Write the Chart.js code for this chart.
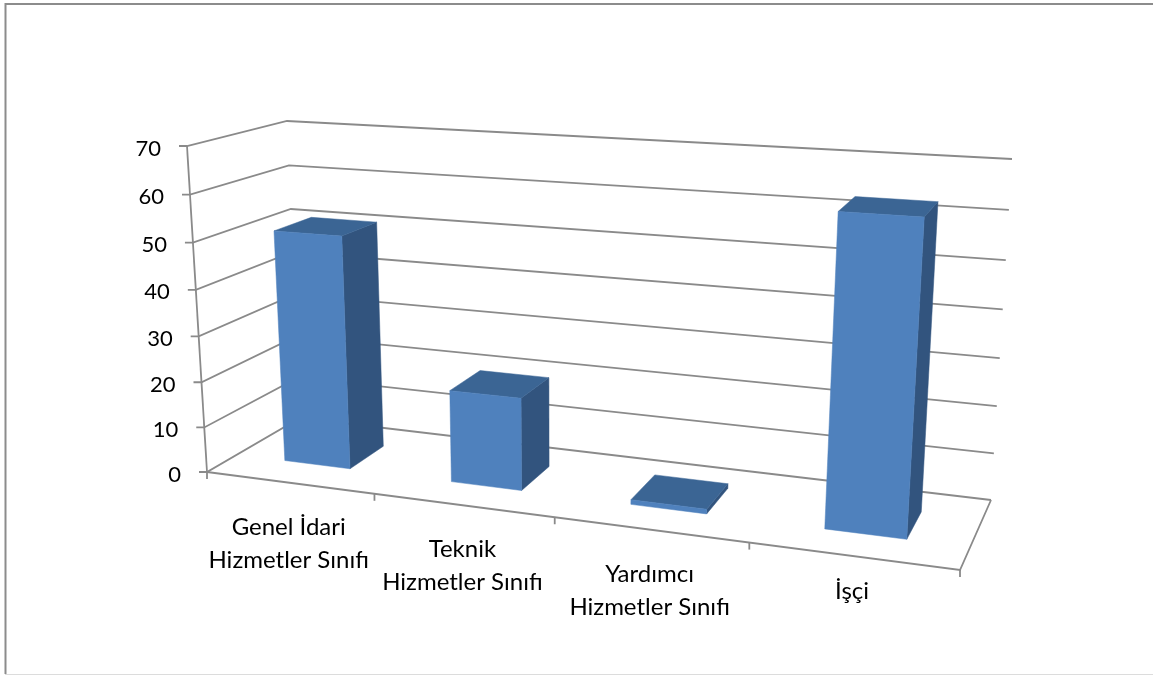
<!DOCTYPE html>
<html lang="tr">
<head>
<meta charset="utf-8">
<title>Hizmet sınıfları</title>
<script src="https://cdn.jsdelivr.net/npm/chart.js@4"></script>
<style>
html,body{margin:0;padding:0;background:#fff;overflow:hidden}
#wrap{width:1153px;height:675px;position:relative}
</style>
</head>
<body>
<div id="wrap"><canvas id="chart" width="1153" height="675"></canvas></div>
<script>
// Chart data
const categories = [
  ['Genel İdari', 'Hizmetler Sınıfı'],
  ['Teknik', 'Hizmetler Sınıfı'],
  ['Yardımcı', 'Hizmetler Sınıfı'],
  ['İşçi']
];
const seriesValues = [51, 20, 1, 63];
const axisMin = 0;
const axisMax = 70;
const axisStep = 10;

// Corners of the 3D plot box on screen, keyed by [u, v, d]:
// u along the categories, v up the value axis, d into the depth.
const boxCorners = {
  '000': [207, 472], '100': [960, 570],
  '010': [187, 146], '110': [984, 195],
  '001': [300, 418], '101': [991, 500],
  '011': [287, 121], '111': [1012, 159]
};
// Perspective weights: how strongly each axis foreshortens.
const persp = { u: 0.858, v: 0.95, d: 1.12 };
// Depth range of a bar inside the box
const barDepth = [0.3, 0.7];

const COLORS = {
  grid: '#8a8a8a',
  front: '#4f81bd',
  side: '#32547e',
  top: '#3b6594',
  text: '#000000'
};
const VALUE_FONT = '22px Lato, Carlito, Calibri, sans-serif';
const CATEGORY_FONT = '24px Lato, Carlito, Calibri, sans-serif';

// Rational trilinear map from box coordinates to the screen.
function project(u, v, d) {
  let sx = 0, sy = 0, sw = 0;
  for (const i of [0, 1]) for (const j of [0, 1]) for (const k of [0, 1]) {
    const w = (i ? u * persp.u : 1 - u) * (j ? v * persp.v : 1 - v) * (k ? d * persp.d : 1 - d);
    const c = boxCorners['' + i + j + k];
    sx += c[0] * w; sy += c[1] * w; sw += w;
  }
  return [sx / sw, sy / sw];
}

function polyline(ctx, pts) {
  ctx.beginPath();
  pts.forEach((p, i) => i ? ctx.lineTo(p[0], p[1]) : ctx.moveTo(p[0], p[1]));
}

function face(ctx, pts, color) {
  polyline(ctx, pts);
  ctx.closePath();
  ctx.fillStyle = color;
  ctx.strokeStyle = color;
  ctx.lineWidth = 0.5;
  ctx.fill();
  ctx.stroke();
}

const normU = (chart, px) => (px - chart.chartArea.left) / chart.chartArea.width;
const normV = (chart, px) => (chart.chartArea.bottom - px) / chart.chartArea.height;

// Bars drawn as prisms from the geometry the bar controller computes.
class Bar3dController extends Chart.BarController {
  draw() {
    const chart = this.chart, ctx = chart.ctx;
    const [d0, d1] = barDepth;
    this._cachedMeta.data.forEach(el => {
      const { x, y, base, width } = el.getProps(['x', 'y', 'base', 'width'], true);
      const u0 = normU(chart, x - width / 2), u1 = normU(chart, x + width / 2);
      const v0 = normV(chart, base), v1 = normV(chart, y);
      face(ctx, [project(u1, v0, d0), project(u1, v0, d1), project(u1, v1, d1), project(u1, v1, d0)], COLORS.side);
      face(ctx, [project(u0, v1, d0), project(u1, v1, d0), project(u1, v1, d1), project(u0, v1, d1)], COLORS.top);
      face(ctx, [project(u0, v0, d0), project(u1, v0, d0), project(u1, v1, d0), project(u0, v1, d0)], COLORS.front);
    });
  }
}
Bar3dController.id = 'bar3d';
Bar3dController.defaults = Chart.BarController.defaults;
Bar3dController.overrides = Chart.BarController.overrides;
Chart.register(Bar3dController);

// Outer frame, walls, floor, axes and their labels.
const box3d = {
  id: 'box3d',
  beforeDatasetsDraw(chart) {
    const ctx = chart.ctx, xs = chart.scales.x, ys = chart.scales.y;
    ctx.save();

    ctx.strokeStyle = '#8c8c8c';
    ctx.lineWidth = 2;
    polyline(ctx, [[5.5, 674], [5.5, 4], [1153, 4]]);
    ctx.stroke();
    ctx.strokeStyle = '#dcdcdc';
    ctx.lineWidth = 1;
    polyline(ctx, [[5, 674.5], [1153, 674.5]]);
    ctx.stroke();

    ctx.strokeStyle = COLORS.grid;
    ctx.lineWidth = 1.8;
    ctx.lineCap = 'butt';
    ctx.lineJoin = 'miter';

    // Value gridlines across the left and back walls, with ticks and labels
    ctx.font = VALUE_FONT;
    ctx.fillStyle = COLORS.text;
    ctx.textAlign = 'right';
    ctx.textBaseline = 'alphabetic';
    ys.ticks.forEach(t => {
      const v = normV(chart, ys.getPixelForValue(t.value));
      const front = project(0, v, 0);
      polyline(ctx, [[front[0] - 8, front[1]], front, project(0, v, 1), project(1, v, 1)]);
      ctx.stroke();
      ctx.fillText(String(t.value), front[0] - 26, front[1] + 9.5);
    });

    // Vertical axis, floor outline and category ticks
    polyline(ctx, [project(0, 1, 0), project(0, 0, 0)]);
    ctx.stroke();
    polyline(ctx, [project(0, 0, 0), project(1, 0, 0), project(1, 0, 1)]);
    ctx.stroke();

    const n = categories.length;
    const step = xs.getPixelForValue(1) - xs.getPixelForValue(0);
    for (let i = 0; i <= n; i++) {
      const px = i < n ? xs.getPixelForValue(i) - step / 2 : xs.getPixelForValue(n - 1) + step / 2;
      const p = project(normU(chart, px), 0, 0);
      polyline(ctx, [p, [p[0], p[1] + 7]]);
      ctx.stroke();
    }

    // Category labels under the front floor edge
    ctx.font = CATEGORY_FONT;
    ctx.textAlign = 'center';
    xs.getLabels().forEach((label, i) => {
      const p = project(normU(chart, xs.getPixelForValue(i)), 0, 0);
      const lines = Array.isArray(label) ? label : [label];
      const first = lines.length > 1 ? 52 : 43;
      lines.forEach((line, k) => ctx.fillText(line, p[0] - 0.5, p[1] + first + k * 33));
    });
    ctx.restore();
  }
};

new Chart(document.getElementById('chart'), {
  type: 'bar3d',
  data: {
    labels: categories,
    datasets: [{ data: seriesValues, barPercentage: 0.4, categoryPercentage: 1 }]
  },
  options: {
    responsive: false,
    animation: false,
    layout: { padding: 0 },
    plugins: { legend: { display: false }, tooltip: { enabled: false }, title: { display: false } },
    scales: {
      x: { type: 'category', display: false, offset: true },
      y: { type: 'linear', display: false, min: axisMin, max: axisMax, ticks: { stepSize: axisStep } }
    }
  },
  plugins: [box3d]
});
</script>
</body>
</html>
